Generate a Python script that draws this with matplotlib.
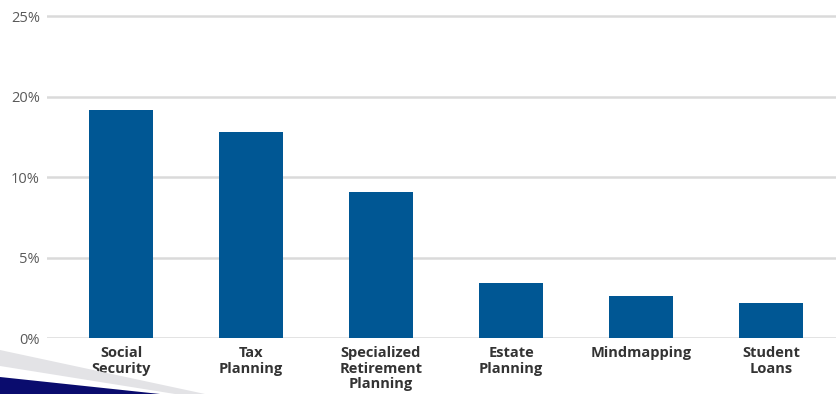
import matplotlib.pyplot as plt
from matplotlib.patches import Polygon

# Planning topics and share of respondents (%)
topics = ["Social\nSecurity", "Tax\nPlanning", "Specialized\nRetirement\nPlanning",
          "Estate\nPlanning", "Mindmapping", "Student\nLoans"]
shares = [14.2, 12.8, 9.1, 3.4, 2.6, 2.15]

tick_values = [0, 5, 10, 15, 20]
tick_labels = ["0%", "5%", "10%", "20%", "25%"]

BAR_COLOR = "#005794"
GRID_COLOR = "#dadada"

fig = plt.figure(figsize=(8.36, 3.94), dpi=100)
ax = fig.add_axes([0.0562, 0.142, 0.9438, 0.823])

x = range(len(topics))
ax.bar(x, shares, width=0.49, color=BAR_COLOR, zorder=3)

ax.set_xlim(-0.57, 5.5)
ax.set_ylim(0, 20.15)
ax.set_yticks(tick_values)
ax.set_yticklabels(tick_labels, fontsize=10.5, color="#5a5a5a", family="Open Sans")
ax.grid(axis="y", color=GRID_COLOR, linewidth=1.8, zorder=0)
ax.tick_params(axis="y", length=0, pad=5)

ax.set_xticks(list(x))
ax.set_xticklabels(topics, fontsize=10.5, fontweight="bold", color="#333333",
                   family="Open Sans", linespacing=1.12)
ax.tick_params(axis="x", length=0, pad=6)

for side in ax.spines.values():
    side.set_visible(False)

# decorative stripes in the lower-left corner
W, H = 836, 394
gray = [(0, 350), (0, 366), (175, 394), (205, 394)]
navy = [(0, 377), (0, 394), (160, 394)]
fig.patches.append(Polygon([(px / W, 1 - py / H) for px, py in gray],
                           closed=True, transform=fig.transFigure,
                           facecolor="#e3e3e6", edgecolor="none"))
fig.patches.append(Polygon([(px / W, 1 - py / H) for px, py in navy],
                           closed=True, transform=fig.transFigure,
                           facecolor="#0a0c6e", edgecolor="none"))

fig.savefig("out.png", dpi=100)
